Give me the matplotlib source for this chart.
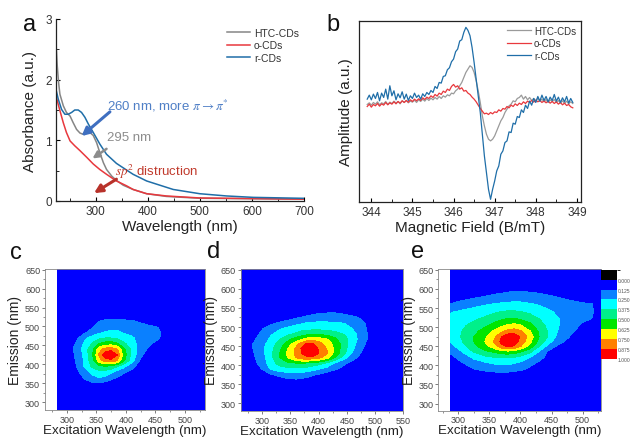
import numpy as np
import matplotlib
matplotlib.use("Agg")
import matplotlib.pyplot as plt
from matplotlib.colors import ListedColormap, BoundaryNorm
from matplotlib.cm import ScalarMappable
from matplotlib.ticker import MultipleLocator

plt.rcParams['font.family'] = ['Liberation Sans', 'DejaVu Sans']
plt.rcParams['mathtext.fontset'] = 'stix'

# ---------------- (a) UV-vis absorbance ----------------
wl_htc = [224, 226.4, 229, 231.5, 238, 244, 251, 257, 263.5, 270, 276, 283, 289, 295.5,
          302, 308, 315, 321, 331, 340, 353, 372, 398, 436, 500, 700]
abs_htc = [2.61, 2.23, 1.95, 1.76, 1.57, 1.46, 1.40, 1.29, 1.18, 1.12, 1.10, 1.12, 1.13, 1.08,
           0.96, 0.80, 0.63, 0.52, 0.41, 0.34, 0.26, 0.19, 0.12, 0.075, 0.045, 0.03]
wl_o = [224, 231.5, 238, 244, 251, 260, 270, 283, 295.5, 308, 321, 340, 359.5, 372,
        398, 436, 500, 700]
abs_o = [1.73, 1.49, 1.29, 1.13, 0.99, 0.91, 0.83, 0.72, 0.61, 0.52, 0.44, 0.33, 0.25, 0.19,
         0.12, 0.083, 0.05, 0.03]
wl_r = [224, 228.3, 234.7, 241, 247.5, 254, 260, 266.7, 273, 279.5, 286, 295.5, 308, 321,
        340, 359.5, 372, 398, 423.5, 449, 500, 551.5, 602.7, 700]
abs_r = [1.84, 1.68, 1.51, 1.43, 1.43, 1.46, 1.50, 1.50, 1.46, 1.38, 1.27, 1.13, 0.94, 0.77,
         0.62, 0.51, 0.44, 0.33, 0.26, 0.19, 0.12, 0.083, 0.06, 0.044]

# ---------------- (b) EPR spectra ----------------
field = np.linspace(343.9, 348.9, 101)
epr_htc = [-0.6, -0.1, -0.8, 0.0, -0.5, 0.2, -0.7, -0.1, -0.4, 0.3,
           -0.6, 0.1, -0.3, 0.4, -0.2, 0.3, -0.4, 0.5, 0.0, 0.6,
           -0.1, 0.4, 0.1, 0.7, 0.0, 0.8, 0.3, 1.0, 0.4, 1.2,
           0.6, 1.3, 0.8, 1.5, 1.0, 1.8, 1.2, 2.0, 1.6, 2.3,
           2.0, 2.8, 2.6, 3.5, 4.0, 5.0, 6.0, 7.5, 9.0, 10.0,
           11.0, 10.5, 9.0, 6.5, 3.5, 0.0, -4.0, -7.0, -9.5, -11.0,
           -11.5, -11.0, -10.0, -8.5, -7.0, -5.5, -4.5, -3.0, -2.0, -1.0,
           -0.5, 0.5, 0.2, 1.2, 1.5, 2.2, 1.0, 1.8, 0.8, 1.5,
           0.6, 1.2, 0.5, 1.3, 0.4, 1.0, 0.2, 0.9, 0.0, 0.8,
           0.3, 0.9, 0.0, 0.6, -0.2, 0.5, -0.3, 0.4, -0.4, 0.2,
           -0.3]
epr_o = [-1.2, -0.5, -1.4, -0.6, -1.0, -0.3, -1.1, -0.4, -0.8, 0.0,
         -0.7, -0.1, -0.5, 0.2, -0.4, 0.3, -0.2, 0.5, 0.0, 0.6,
         0.1, 0.8, 0.3, 1.0, 0.5, 1.1, 0.6, 1.4, 0.9, 1.6,
         1.2, 2.0, 1.5, 2.4, 1.9, 2.8, 2.4, 3.4, 3.0, 4.0,
         3.6, 4.8, 5.4, 4.6, 5.0, 4.0, 4.4, 3.4, 3.6, 2.8,
         2.4, 1.6, 1.0, 0.2, -0.8, -1.8, -2.6, -3.4, -3.2, -3.6,
         -3.0, -3.4, -2.8, -3.0, -2.2, -2.6, -1.8, -2.0, -1.2, -1.6,
         -0.8, -1.2, -0.4, -0.9, -0.2, -0.6, 0.2, -0.3, 0.4, 0.0,
         0.6, 0.1, 0.7, 0.2, 0.6, 0.0, 0.5, -0.1, 0.4, -0.2,
         0.3, -0.3, 0.2, -0.5, 0.0, -0.7, -0.2, -0.9, -0.6, -1.3,
         -1.6]
epr_r = [1.0, 2.2, 0.8, 2.5, 1.2, 3.0, 0.5, 2.8, 1.5, 4.0,
         1.0, 5.0, 2.0, 3.5, 0.8, 2.6, 1.4, 3.2, 1.0, 2.5,
         0.6, 2.0, 1.2, 2.8, 1.5, 2.2, 1.0, 2.6, 1.8, 3.0,
         2.4, 3.6, 3.0, 4.8, 4.2, 6.0, 5.8, 7.8, 8.0, 9.8,
         10.4, 12.2, 13.0, 15.2, 16.0, 18.4, 18.8, 21.0, 22.5, 21.6,
         20.0, 16.5, 12.0, 7.0, 2.0, -3.0, -9.5, -16.0, -21.0, -26.0,
         -29.0, -26.0, -23.5, -20.5, -19.0, -15.5, -14.5, -12.0, -11.5, -8.8,
         -9.0, -6.2, -6.5, -4.2, -4.5, -2.2, -3.0, -0.8, -1.8, 0.4,
         -0.8, 1.2, 0.0, 1.8, 0.4, 2.2, 0.6, 1.8, 0.2, 1.6,
         0.6, 2.4, 0.4, 1.6, 0.0, 1.4, 0.2, 1.8, -0.2, 1.2,
         0.0]

# ---------------- (c) HTC-CDs excitation-emission map ----------------
ex_c = [285, 300, 315, 330, 345, 355, 365, 375, 385, 395, 410, 425, 440, 455, 470, 534]
em_c = [280, 330, 350, 365, 380, 395, 410, 425, 440, 455, 470, 485, 500, 515, 530, 652]
pl_c = [
    [0] * 16,
    [0, 0, 0, 0.02, 0.04, 0.04, 0.03, 0.02, 0, 0, 0, 0, 0, 0, 0, 0],
    [0, 0, 0.02, 0.08, 0.12, 0.11, 0.09, 0.06, 0.03, 0.01, 0, 0, 0, 0, 0, 0],
    [0, 0, 0.05, 0.14, 0.22, 0.25, 0.22, 0.17, 0.12, 0.07, 0.02, 0, 0, 0, 0, 0],
    [0, 0, 0.08, 0.20, 0.30, 0.34, 0.33, 0.28, 0.21, 0.16, 0.09, 0.03, 0, 0, 0, 0],
    [0, 0.01, 0.11, 0.26, 0.42, 0.48, 0.50, 0.47, 0.40, 0.30, 0.17, 0.06, 0.01, 0, 0, 0],
    [0, 0.02, 0.13, 0.27, 0.49, 0.70, 0.82, 0.84, 0.76, 0.55, 0.30, 0.10, 0.03, 0, 0, 0],
    [0, 0.03, 0.14, 0.28, 0.52, 0.78, 0.96, 1.00, 0.88, 0.60, 0.34, 0.15, 0.06, 0.02, 0, 0],
    [0, 0.04, 0.16, 0.30, 0.50, 0.70, 0.80, 0.83, 0.76, 0.55, 0.34, 0.18, 0.10, 0.05, 0.01, 0],
    [0, 0.03, 0.13, 0.27, 0.40, 0.50, 0.55, 0.56, 0.51, 0.41, 0.30, 0.20, 0.14, 0.09, 0.03, 0],
    [0, 0.01, 0.08, 0.22, 0.30, 0.35, 0.37, 0.37, 0.35, 0.31, 0.27, 0.20, 0.15, 0.14, 0.05, 0],
    [0, 0, 0.02, 0.10, 0.18, 0.22, 0.26, 0.27, 0.27, 0.24, 0.20, 0.17, 0.15, 0.14, 0.08, 0],
    [0, 0, 0, 0.03, 0.12, 0.16, 0.19, 0.20, 0.20, 0.19, 0.17, 0.15, 0.14, 0.12, 0.03, 0],
    [0, 0, 0, 0, 0.07, 0.12, 0.14, 0.15, 0.15, 0.14, 0.13, 0.11, 0.06, 0.02, 0, 0],
    [0, 0, 0, 0, 0.02, 0.04, 0.06, 0.07, 0.07, 0.06, 0.04, 0.02, 0, 0, 0, 0],
    [0] * 16,
]

# ---------------- (d) o-CDs excitation-emission map ----------------
ex_d = [262, 285, 300, 315, 330, 345, 360, 370, 380, 390, 400, 415, 430, 445, 460, 475, 490, 550]
em_d = [280, 360, 375, 390, 405, 420, 432, 444, 456, 468, 480, 495, 510, 525, 540, 652]
pl_d = [
    [0] * 18,
    [0, 0, 0, 0.02, 0.05, 0.09, 0.10, 0.09, 0.07, 0.04, 0.02, 0, 0, 0, 0, 0, 0, 0],
    [0, 0, 0.02, 0.11, 0.16, 0.19, 0.20, 0.19, 0.17, 0.14, 0.11, 0.06, 0.02, 0, 0, 0, 0, 0],
    [0, 0.05, 0.13, 0.26, 0.31, 0.34, 0.35, 0.34, 0.32, 0.29, 0.26, 0.20, 0.14, 0.08, 0.03, 0, 0, 0],
    [0, 0.09, 0.17, 0.31, 0.42, 0.47, 0.49, 0.49, 0.48, 0.45, 0.42, 0.35, 0.22, 0.15, 0.08, 0.03, 0, 0],
    [0.02, 0.11, 0.20, 0.33, 0.49, 0.63, 0.76, 0.83, 0.86, 0.84, 0.80, 0.68, 0.49, 0.30, 0.17, 0.09, 0.03, 0],
    [0.04, 0.12, 0.21, 0.34, 0.49, 0.64, 0.78, 0.88, 0.96, 0.95, 0.88, 0.76, 0.57, 0.41, 0.24, 0.12, 0.05, 0],
    [0.05, 0.13, 0.22, 0.33, 0.46, 0.62, 0.77, 0.89, 1.00, 0.97, 0.86, 0.74, 0.58, 0.43, 0.27, 0.15, 0.06, 0],
    [0.05, 0.13, 0.21, 0.30, 0.42, 0.55, 0.70, 0.81, 0.90, 0.89, 0.80, 0.70, 0.57, 0.44, 0.30, 0.17, 0.08, 0],
    [0.04, 0.11, 0.18, 0.27, 0.36, 0.46, 0.56, 0.62, 0.68, 0.70, 0.69, 0.63, 0.52, 0.43, 0.31, 0.20, 0.10, 0],
    [0.02, 0.09, 0.15, 0.24, 0.30, 0.36, 0.41, 0.46, 0.49, 0.50, 0.50, 0.48, 0.44, 0.38, 0.30, 0.20, 0.10, 0],
    [0, 0.06, 0.12, 0.18, 0.24, 0.28, 0.31, 0.33, 0.34, 0.35, 0.35, 0.34, 0.32, 0.29, 0.25, 0.17, 0.10, 0],
    [0, 0.01, 0.05, 0.10, 0.14, 0.18, 0.22, 0.24, 0.26, 0.27, 0.27, 0.27, 0.26, 0.25, 0.22, 0.16, 0.09, 0],
    [0, 0, 0, 0.03, 0.05, 0.07, 0.11, 0.13, 0.15, 0.17, 0.18, 0.18, 0.18, 0.17, 0.15, 0.11, 0.05, 0],
    [0, 0, 0, 0, 0, 0.02, 0.04, 0.05, 0.07, 0.08, 0.10, 0.11, 0.11, 0.09, 0.06, 0.03, 0, 0],
    [0] * 18,
]

# ---------------- (e) r-CDs excitation-emission map ----------------
ex_e = [287, 305, 325, 345, 360, 370, 380, 390, 400, 415, 430, 445, 460, 480, 500, 515, 529]
em_e = [282, 375, 390, 405, 420, 435, 450, 462, 475, 490, 505, 520, 540, 560, 580, 600, 652]
pl_e = [
    [0] * 17,
    [0, 0.02, 0.04, 0.06, 0.07, 0.07, 0.06, 0.05, 0.04, 0.02, 0, 0, 0, 0, 0, 0, 0],
    [0.02, 0.06, 0.12, 0.16, 0.18, 0.19, 0.19, 0.17, 0.15, 0.10, 0.05, 0.02, 0, 0, 0, 0, 0],
    [0.05, 0.11, 0.18, 0.23, 0.26, 0.27, 0.27, 0.25, 0.22, 0.16, 0.10, 0.05, 0.02, 0, 0, 0, 0],
    [0.09, 0.16, 0.27, 0.34, 0.37, 0.38, 0.38, 0.36, 0.32, 0.25, 0.16, 0.09, 0.04, 0, 0, 0, 0],
    [0.14, 0.24, 0.38, 0.47, 0.52, 0.56, 0.57, 0.55, 0.50, 0.40, 0.24, 0.10, 0.06, 0.02, 0, 0, 0],
    [0.20, 0.32, 0.46, 0.60, 0.72, 0.84, 0.90, 0.86, 0.76, 0.58, 0.38, 0.20, 0.11, 0.05, 0.01, 0, 0],
    [0.25, 0.36, 0.50, 0.64, 0.78, 0.92, 1.00, 0.95, 0.84, 0.66, 0.46, 0.30, 0.17, 0.08, 0.03, 0, 0],
    [0.28, 0.38, 0.50, 0.62, 0.75, 0.88, 0.96, 0.95, 0.86, 0.70, 0.50, 0.36, 0.22, 0.12, 0.05, 0.01, 0],
    [0.30, 0.37, 0.46, 0.56, 0.65, 0.72, 0.78, 0.80, 0.76, 0.63, 0.48, 0.36, 0.25, 0.15, 0.08, 0.03, 0],
    [0.31, 0.35, 0.41, 0.48, 0.55, 0.60, 0.64, 0.66, 0.63, 0.54, 0.43, 0.34, 0.26, 0.17, 0.11, 0.06, 0.02],
    [0.29, 0.32, 0.36, 0.41, 0.46, 0.49, 0.52, 0.52, 0.50, 0.45, 0.38, 0.32, 0.26, 0.19, 0.14, 0.12, 0.04],
    [0.24, 0.27, 0.30, 0.33, 0.36, 0.38, 0.39, 0.39, 0.38, 0.35, 0.31, 0.27, 0.23, 0.18, 0.15, 0.14, 0.05],
    [0.13, 0.17, 0.21, 0.24, 0.26, 0.27, 0.28, 0.28, 0.28, 0.26, 0.24, 0.21, 0.18, 0.15, 0.14, 0.13, 0.04],
    [0.03, 0.07, 0.10, 0.13, 0.15, 0.16, 0.17, 0.18, 0.18, 0.17, 0.16, 0.14, 0.12, 0.10, 0.06, 0.03, 0],
    [0, 0.01, 0.03, 0.05, 0.07, 0.08, 0.09, 0.10, 0.10, 0.09, 0.08, 0.06, 0.04, 0.02, 0, 0, 0],
    [0] * 17,
]

cbar_ticks = [0.0, 0.125, 0.25, 0.375, 0.5, 0.625, 0.75, 0.875, 1.0]

# ---------------- styling ----------------
C_HTC = '#858585'
C_O = '#e8383d'
C_R = '#1f6ea8'
TXT = '#333333'
band_colors = ['#0000ff', '#0a80ff', '#00ffff', '#00f08a', '#00e600',
               '#ffff00', '#ff8000', '#ff0000']
band_levels = [-0.01, 0.125, 0.25, 0.375, 0.5, 0.625, 0.75, 0.875, 1.01]

W, H = 630, 439
fig = plt.figure(figsize=(W / 100, H / 100), dpi=100)


def box(l, t, r, b):
    return [l / W, 1 - b / H, (r - l) / W, (b - t) / H]


# ---- panel a ----
ax = fig.add_axes(box(56, 20, 304, 202))
ax.plot(wl_htc, abs_htc, color=C_HTC, lw=1.1, label='HTC-CDs')
ax.plot(wl_o, abs_o, color=C_O, lw=1.1, label='o-CDs')
ax.plot(wl_r, abs_r, color=C_R, lw=1.1, label='r-CDs')
ax.set_xlim(224, 700)
ax.set_ylim(0, 3)
for s in ['top', 'right']:
    ax.spines[s].set_visible(False)
for s in ['left', 'bottom']:
    ax.spines[s].set_linewidth(0.9)
    ax.spines[s].set_color('#222222')
ax.xaxis.set_major_locator(MultipleLocator(100))
ax.xaxis.set_minor_locator(MultipleLocator(50))
ax.yaxis.set_major_locator(MultipleLocator(1))
ax.yaxis.set_minor_locator(MultipleLocator(0.5))
ax.tick_params(which='both', direction='in', labelsize=8.5, labelcolor=TXT, pad=3)
ax.tick_params(which='major', length=3)
ax.tick_params(which='minor', length=2)
ax.set_xlabel('Wavelength (nm)', fontsize=11, color='#222222', labelpad=1)
ax.set_ylabel('Absorbance (a.u.)', fontsize=11, color='#222222', labelpad=6)
leg = ax.legend(loc='upper right', bbox_to_anchor=(1.0, 0.98), frameon=False, fontsize=7.5,
                handlelength=2.2, handletextpad=0.35, labelspacing=0.25, borderaxespad=0.1)
for t in leg.get_texts():
    t.set_color(TXT)

ax.annotate('', xy=(273, 1.07), xytext=(327.5, 1.47),
            arrowprops=dict(arrowstyle='-|>', color='#3f6fc0', lw=2.2, mutation_scale=12,
                            shrinkA=0, shrinkB=0))
ax.text(321, 1.58, r'260 nm, more $\pi \rightarrow \pi^{*}$', color='#4f7fc6', fontsize=9.5,
        va='center')
ax.annotate('', xy=(294, 0.70), xytext=(321, 0.86),
            arrowprops=dict(arrowstyle='-|>', color='#8c8c8c', lw=1.8, mutation_scale=10,
                            shrinkA=0, shrinkB=0))
ax.text(321, 1.05, '295 nm', color='#8c8c8c', fontsize=9.5, va='center')
ax.annotate('', xy=(297, 0.13), xytext=(340, 0.36),
            arrowprops=dict(arrowstyle='-|>', color='#b8322a', lw=2.2, mutation_scale=12,
                            shrinkA=0, shrinkB=0))
ax.text(337, 0.50, r'$sp^{2}$ distruction', color='#c0392b', fontsize=9.5, va='center')

# ---- panel b ----
bx = fig.add_axes(box(359, 22, 581, 203))
bx.plot(field, epr_htc, color='#9a9a9a', lw=0.9, label='HTC-CDs')
bx.plot(field, epr_o, color=C_O, lw=0.9, label='o-CDs')
bx.plot(field, epr_r, color=C_R, lw=0.9, label='r-CDs')
bx.set_xlim(343.7, 349.1)
bx.set_ylim(-29.8, 24.4)
bx.set_yticks([])
for s in bx.spines.values():
    s.set_linewidth(0.9)
    s.set_color('#222222')
bx.xaxis.set_major_locator(MultipleLocator(1))
bx.xaxis.set_minor_locator(MultipleLocator(0.5))
bx.tick_params(which='both', direction='in', labelsize=8.5, labelcolor=TXT, pad=3)
bx.tick_params(which='major', length=3)
bx.tick_params(which='minor', length=2)
bx.set_xlabel('Magnetic Field (B/mT)', fontsize=11, color='#222222', labelpad=1)
bx.set_ylabel('Amplitude (a.u.)', fontsize=11, color='#222222', labelpad=4)
leg = bx.legend(loc='upper right', bbox_to_anchor=(1.0, 1.0), frameon=False, fontsize=7,
                handlelength=2.4, handletextpad=0.35, labelspacing=0.25, borderaxespad=0.1)
for t in leg.get_texts():
    t.set_color(TXT)


# ---- panels c, d, e ----
def pl_map(rect, ex, em, z, xlo):
    m = fig.add_axes(box(*rect))
    m.contourf(ex, em, np.array(z), levels=band_levels, colors=band_colors)
    m.set_xlim(xlo, ex[-1])
    m.set_ylim(em[0], em[-1])
    for s in m.spines.values():
        s.set_linewidth(0.6)
        s.set_color('#888888')
    m.xaxis.set_major_locator(MultipleLocator(50))
    m.xaxis.set_minor_locator(MultipleLocator(25))
    m.set_yticks([300, 350, 400, 450, 500, 550, 600, 650])
    m.yaxis.set_minor_locator(MultipleLocator(25))
    m.tick_params(which='both', direction='out', labelsize=6.5, labelcolor='#444444',
                  color='#666666', pad=1)
    m.tick_params(which='major', length=2.5, width=0.6)
    m.tick_params(which='minor', length=1.5, width=0.5)
    m.set_xlabel('Excitation Wavelength (nm)', fontsize=9.6, color='#222222', labelpad=0)
    m.set_ylabel('Emission (nm)', fontsize=10, color='#222222', labelpad=2)
    return m


pl_map((45, 270, 205, 410.7), ex_c, em_c, pl_c, 263)
pl_map((240.7, 270, 403.3, 412), ex_d, em_d, pl_d, 262)
pl_map((438.3, 270, 600.7, 411.5), ex_e, em_e, pl_e, 268)

cax = fig.add_axes(box(601, 270.7, 617, 360))
cmap = ListedColormap(['#000000'] + band_colors)
norm = BoundaryNorm([-0.125] + cbar_ticks, cmap.N)
cb = fig.colorbar(ScalarMappable(norm=norm, cmap=cmap), cax=cax, ticks=cbar_ticks)
cb.outline.set_visible(False)
cax.invert_yaxis()
cax.set_yticklabels(['%.3f' % v for v in cbar_ticks])
cax.tick_params(length=0, labelsize=3.6, labelcolor='#555555', pad=0.8)

# panel letters
for lbl, x, y in [('a', 30, 25), ('b', 333, 25), ('c', 16, 253), ('d', 214, 252), ('e', 418, 252)]:
    fig.text(x / W, 1 - y / H, lbl, fontsize=17, color='#111111', ha='center', va='center')

fig.savefig('out.png', dpi=100)
